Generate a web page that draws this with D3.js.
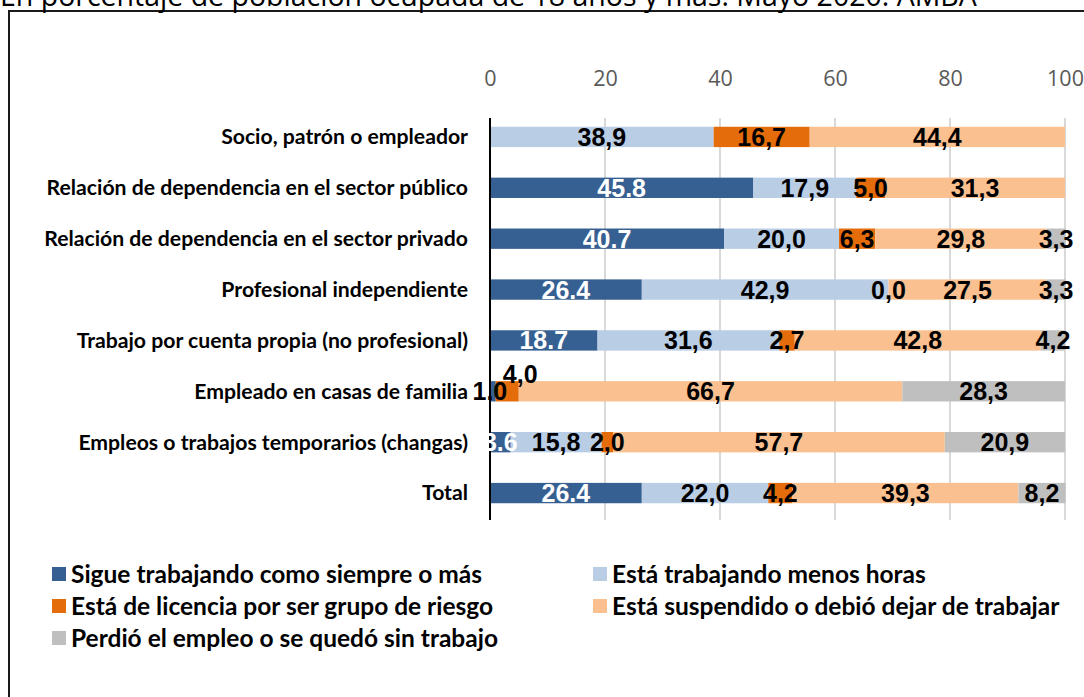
<!DOCTYPE html>
<html><head><meta charset="utf-8">
<script src="https://cdn.jsdelivr.net/npm/d3@7"></script>
<style>body{margin:0;background:#fff}svg{display:block}</style>
</head><body>
<svg id="c" width="1084" height="697"></svg>
<script>
const title = "En porcentaje de población ocupada de 18 años y más. Mayo 2020. AMBA";
const categories = [
  "Socio, patrón o empleador",
  "Relación de dependencia en el sector público",
  "Relación de dependencia en el sector privado",
  "Profesional independiente",
  "Trabajo por cuenta propia (no profesional)",
  "Empleado en casas de familia",
  "Empleos o trabajos temporarios (changas)",
  "Total"
];
const seriesNames = [
  "Sigue trabajando como siempre o más",
  "Está trabajando menos horas",
  "Está de licencia por ser grupo de riesgo",
  "Está suspendido o debió dejar de trabajar",
  "Perdió el empleo o se quedó sin trabajo"
];
const sigue      = [null, 45.8, 40.7, 26.4, 18.7, 1.0, 3.6, 26.4];
const menosHoras = [38.9, 17.9, 20.0, 42.9, 31.6, null, 15.8, 22.0];
const licencia   = [16.7, 5.0, 6.3, 0.0, 2.7, 4.0, 2.0, 4.2];
const suspendido = [44.4, 31.3, 29.8, 27.5, 42.8, 66.7, 57.7, 39.3];
const perdio     = [null, null, 3.3, 3.3, 4.2, 28.3, 20.9, 8.2];
const ticks = [0, 20, 40, 60, 80, 100];
const colors = ["#376092", "#b9cde5", "#e46c0a", "#fac090", "#bfbfbf"];

const series = [sigue, menosHoras, licencia, suspendido, perdio];
const svg = d3.select("#c");

// frame
svg.append("rect").attr("x", 9).attr("y", 11).attr("width", 1100).attr("height", 720)
  .attr("fill", "none").attr("stroke", "#1a1a1a").attr("stroke-width", 2);
svg.append("text").attr("x", 0).attr("y", 6).text(title)
  .attr("font-family", "Open Sans").attr("font-size", 28.5).attr("fill", "#000");

const x = d3.scaleLinear().domain([0, 100]).range([490, 1065]);
const y = d3.scaleBand().domain(categories).range([111.5, 518.5]).paddingInner(0.6).paddingOuter(0.3);

// grid
const yTop = 118, yBot = 520;
svg.append("g").selectAll("line").data(ticks.filter(t => t > 0)).join("line")
  .attr("x1", d => x(d)).attr("x2", d => x(d)).attr("y1", yTop).attr("y2", yBot)
  .attr("stroke", "#d9d9d9").attr("stroke-width", 2);

// top axis
const axis = d3.axisTop(x).tickValues(ticks).tickSize(0).tickPadding(0).tickFormat(d3.format("d"));
const ag = svg.append("g").attr("transform", "translate(0,86)").call(axis);
ag.select(".domain").remove();
ag.selectAll("text").attr("font-family", "Open Sans").attr("font-size", 21.5).attr("fill", "#595959");

// stacked data
const rows = categories.map((c, i) => {
  let acc = 0;
  return series.map((s, k) => {
    const v = s[i];
    const x0 = acc; acc += (v || 0);
    return {cat: c, row: i, k, v, x0, x1: acc};
  });
});
const segs = rows.flat().filter(d => d.v !== null);

svg.append("g").selectAll("rect").data(segs).join("rect")
  .attr("x", d => x(d.x0)).attr("width", d => x(d.x1) - x(d.x0))
  .attr("y", d => y(d.cat)).attr("height", y.bandwidth())
  .attr("fill", d => colors[d.k]);

// vertical axis line
svg.append("line").attr("x1", 490).attr("x2", 490).attr("y1", yTop).attr("y2", yBot)
  .attr("stroke", "#000").attr("stroke-width", 2);

// category labels
svg.append("g").selectAll("text").data(categories).join("text")
  .attr("x", 468).attr("y", d => y(d) + y.bandwidth() / 2).attr("dy", "0.35em")
  .attr("text-anchor", "end").attr("font-family", "Lato").attr("font-weight", "bold")
  .attr("font-size", 21.2).attr("fill", "#000").text(d => d);

// label adjustments (Empleado en casas de familia)
const labelShift = {"5-0": {dx: -3, dy: 0, color: "#000"}, "5-2": {dx: 13, dy: -17}};
const fmtComma = d3.format(".1f");
svg.append("g").selectAll("text").data(segs).join("text")
  .attr("x", d => (x(d.x0) + x(d.x1)) / 2 + ((labelShift[d.row + "-" + d.k] || {}).dx || 0))
  .attr("y", d => y(d.cat) + y.bandwidth() / 2 + ((labelShift[d.row + "-" + d.k] || {}).dy || 0))
  .attr("dy", "0.36em").attr("text-anchor", "middle")
  .attr("font-family", "Liberation Sans").attr("font-weight", "bold").attr("font-size", 25)
  .attr("fill", d => (labelShift[d.row + "-" + d.k] || {}).color || (d.k === 0 ? "#fff" : "#000"))
  .text(d => d.k === 0 ? fmtComma(d.v) : fmtComma(d.v).replace(".", ","));

// legend
const legendPos = [[52, 574], [593, 574], [52, 606], [593, 606], [52, 638]];
const lg = svg.append("g").selectAll("g").data(seriesNames).join("g")
  .attr("transform", (d, i) => `translate(${legendPos[i][0]},${legendPos[i][1]})`);
lg.append("rect").attr("x", 0).attr("y", -7).attr("width", 14).attr("height", 14)
  .attr("fill", (d, i) => colors[i]);
lg.append("text").attr("x", 19).attr("y", 0).attr("dy", "0.35em")
  .attr("font-family", "Lato").attr("font-weight", "bold").attr("font-size", 24.5)
  .attr("fill", "#000").text(d => d);
</script>
</body></html>
